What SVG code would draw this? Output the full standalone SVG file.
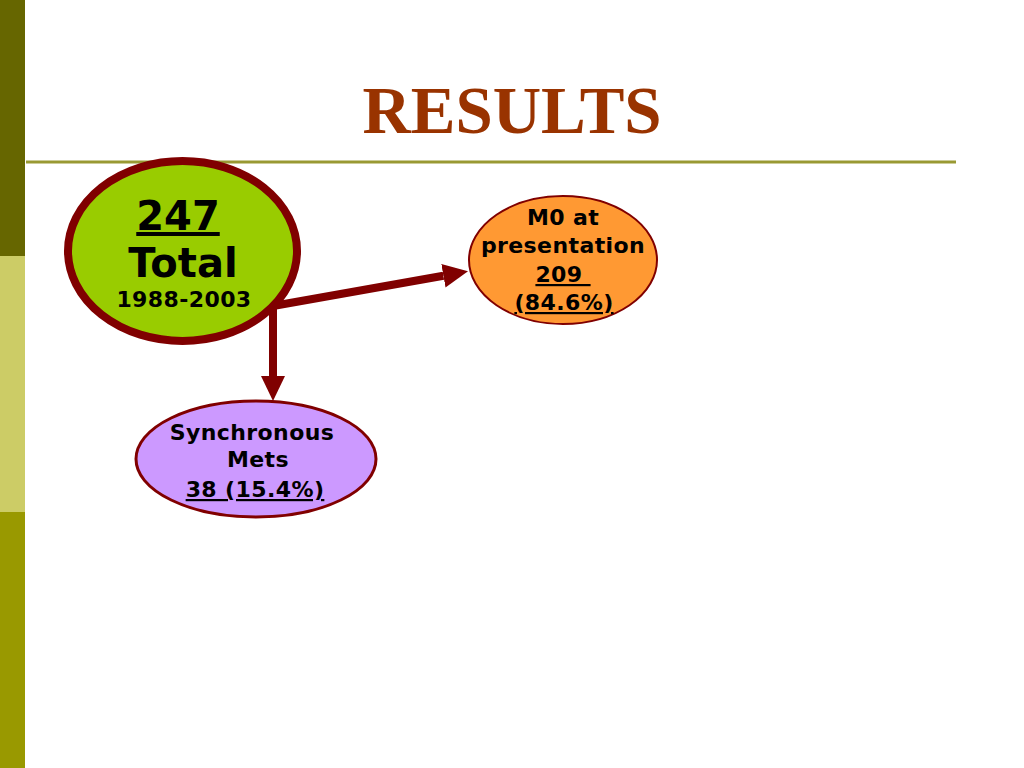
<svg xmlns="http://www.w3.org/2000/svg" width="1024" height="768" viewBox="0 0 1024 768">
<defs>
<style>
.t{font-family:"DejaVu Sans","Liberation Sans",sans-serif;font-weight:bold;text-anchor:middle;fill:#000}
.s{font-size:22px;letter-spacing:0.4px}
.b{font-size:40px}
.u{text-decoration:underline}
.conn{stroke:#800000;stroke-width:8;fill:none}
</style>
<marker id="ah" markerUnits="userSpaceOnUse" markerWidth="26" markerHeight="26" refX="0" refY="12" orient="auto" viewBox="0 0 26 24">
<path d="M0,0 L25,12 L0,24 Z" fill="#800000"/>
</marker>
</defs>
<rect width="1024" height="768" fill="#fff"/>
<rect x="0" y="0" width="25" height="256" fill="#666600"/>
<rect x="0" y="256" width="25" height="256" fill="#cccc66"/>
<rect x="0" y="512" width="25" height="256" fill="#999900"/>
<line x1="26" y1="162" x2="956" y2="162" stroke="#999933" stroke-width="3"/>
<text x="512" y="133" font-family="Liberation Serif,serif" font-weight="bold" font-size="67" fill="#993300" text-anchor="middle">RESULTS</text>
<g id="connectors">
<path class="conn" d="M273,306 L443.4,275.7" marker-end="url(#ah)"/>
<path class="conn" d="M273,306 L273,376" marker-end="url(#ah)"/>
</g>
<g id="total">
<ellipse cx="182.5" cy="251" rx="114.5" ry="90" fill="#99cc00" stroke="#800000" stroke-width="8"/>
<text class="t b u" x="178" y="230">247</text>
<text class="t b" x="183" y="277">Total</text>
<text class="t s" x="184" y="307">1988-2003</text>
</g>
<g id="m0">
<ellipse cx="563" cy="260" rx="94" ry="64" fill="#ff9933" stroke="#800000" stroke-width="2"/>
<text class="t s" x="563" y="225">M0 at</text>
<text class="t s" x="563" y="253">presentation</text>
<text class="t s u" x="563" y="282" xml:space="preserve">209 </text>
<text class="t s u" x="564" y="310">(84.6%)</text>
</g>
<g id="sync">
<ellipse cx="256" cy="459" rx="120" ry="58" fill="#cc99ff" stroke="#800000" stroke-width="3"/>
<text class="t s" x="252" y="440" fill="#110022">Synchronous</text>
<text class="t s" x="258" y="467">Mets</text>
<text class="t s u" x="255" y="497">38 (15.4%)</text>
</g>
</svg>
